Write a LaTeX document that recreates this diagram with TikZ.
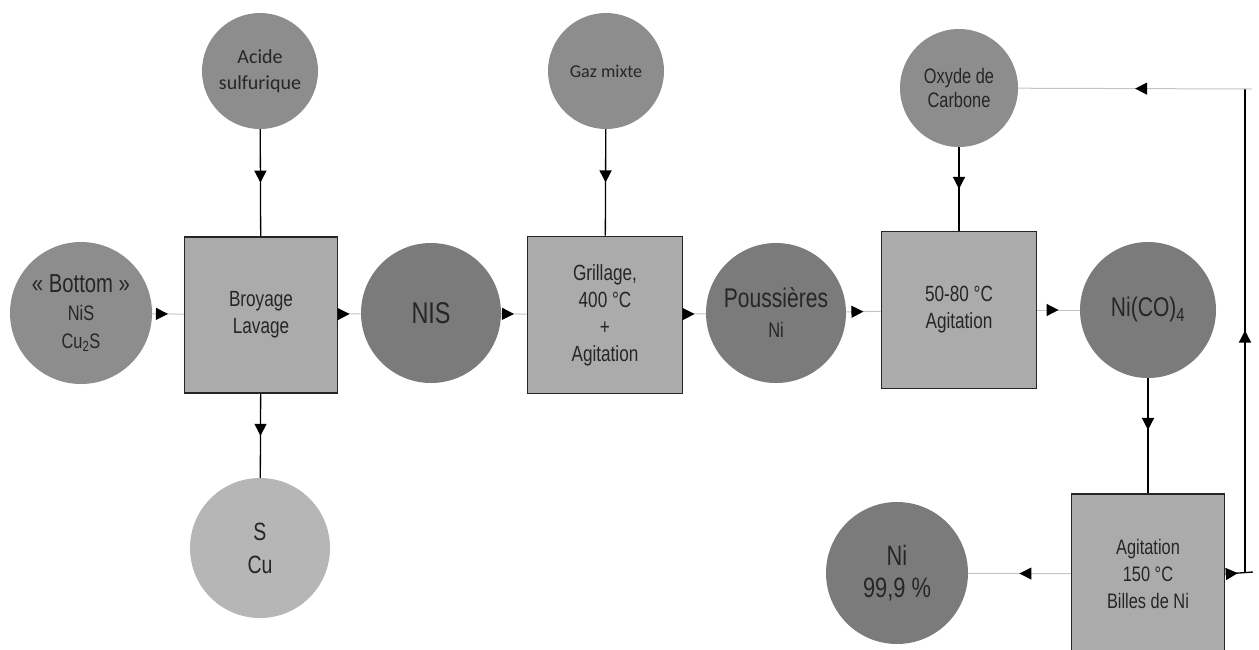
\documentclass[tikz,border=0pt]{standalone}
\usepackage{fontspec}
\usetikzlibrary{arrows.meta,decorations.markings}
\newfontfamily\narrowfont[FakeStretch=0.78]{Liberation Sans}
\newfontfamily\calfont{Carlito}
\definecolor{feedgray}{HTML}{8D8D8D}
\definecolor{prodgray}{HTML}{7B7B7B}
\definecolor{boxgray}{HTML}{ABABAB}
\definecolor{wastegray}{HTML}{B6B6B6}
\definecolor{flowgray}{HTML}{C4C4C4}
\definecolor{inkgray}{HTML}{262626}
\newcommand{\fsz}[2]{\fontsize{#1}{#2}\selectfont}
\tikzset{
  midarrow/.style={postaction={decorate,decoration={markings,
      mark=at position #1 with {\arrow[black]{Triangle[length=12pt,width=12pt]}}}}},
  midarrow/.default=0.5,
  flowline/.style={draw=flowgray, line width=1pt},
  feedline/.style={draw=black, line width=1.3pt},
  disc/.style={circle, inner sep=0pt, align=center, text=inkgray},
  feed/.style={disc, fill=feedgray, minimum size=116pt},
  prod/.style={disc, fill=prodgray, minimum size=140pt},
  stepbox/.style={rectangle, fill=boxgray, draw=black!85, line width=1.6pt,
      minimum width=153pt, minimum height=156pt, inner sep=0pt, align=center,
      text=inkgray, font=\narrowfont\fsz{22}{27}},
}
\begin{document}
\begin{tikzpicture}[x=1pt,y=-1pt]
\useasboundingbox (0,0) rectangle (1259,649);

% feed streams (top row)
\node[feed, font=\calfont\fsz{20}{26}] (acide) at (260,71) {Acide\\sulfurique};
\node[feed, font=\calfont\fsz{18}{25}] (gaz) at (606,71) {Gaz mixte};
\node[feed, minimum size=118pt, font=\narrowfont\fsz{21}{24}] (oxyde) at (959,88) {Oxyde de\\Carbone};

% main line
\node[prod, fill=feedgray, minimum size=142pt, font=\narrowfont\fsz{21}{28}] (bottom) at (81,313)
  {{\fsz{26}{28}« Bottom »}\\NiS\\Cu\textsubscript{2}S};
\node[stepbox] (broyage) at (261,315) {Broyage\\Lavage};
\node[prod, font=\narrowfont\fsz{30}{30}] (nis) at (431,313) {NIS};
\node[stepbox, minimum width=155pt, minimum height=157pt] (grillage) at (605,315)
  {Grillage,\\400 °C\\+\\Agitation};
\node[prod, font=\narrowfont\fsz{27}{30}] (pouss) at (776,313) {Poussières\\{\fsz{21}{30}Ni}};
\node[stepbox, minimum width=155pt, minimum height=157pt] (carbo) at (959,310)
  {50-80 °C\\Agitation};
\node[prod, minimum size=136pt, font=\narrowfont\fsz{27}{30}] (nico) at (1148,310)
  {Ni(CO)\textsubscript{4}};

% outputs
\node[prod, fill=wastegray, font=\narrowfont\fsz{25}{33}] (scu) at (260,548) {S\\Cu};
\node[stepbox, minimum height=160pt, font=\narrowfont\fsz{21}{27}] (agit) at (1148,574)
  {Agitation\\150 °C\\Billes de Ni};
\node[prod, minimum size=142pt, font=\narrowfont\fsz{28}{32}] (ni) at (897,573) {Ni\\99,9 \%};

% recycle loop coordinates
\coordinate (loopstub) at (1253,572);
\coordinate (loopb) at (1245,572);
\coordinate (loopt) at (1245,89);
\coordinate (looptop) at (1252,89);

% vertical feeds
\draw[feedline, midarrow] (acide) -- (broyage);
\draw[feedline, midarrow] (broyage) -- (scu);
\draw[feedline, midarrow] (gaz) -- (grillage);
\draw[feedline, midarrow] (oxyde) -- (carbo);
\draw[feedline, midarrow=0.45] (nico) -- (agit);

% horizontal flows
\draw[flowline, midarrow] (bottom) -- (broyage);
\draw[flowline, midarrow] (broyage) -- (nis);
\draw[flowline, midarrow] (nis) -- (grillage);
\draw[flowline, midarrow] (grillage) -- (pouss);
\draw[flowline, midarrow] (pouss) -- (carbo);
\draw[flowline, midarrow] (carbo) -- (nico);
\draw[flowline, midarrow] (agit) -- (ni);

% recycle of carbon monoxide
\draw[feedline, midarrow=0.45] (agit.east) -- (loopstub);
\draw[feedline, midarrow] (loopb) -- (loopt);
\draw[flowline, midarrow] (looptop) -- (oxyde);
\end{tikzpicture}
\end{document}
